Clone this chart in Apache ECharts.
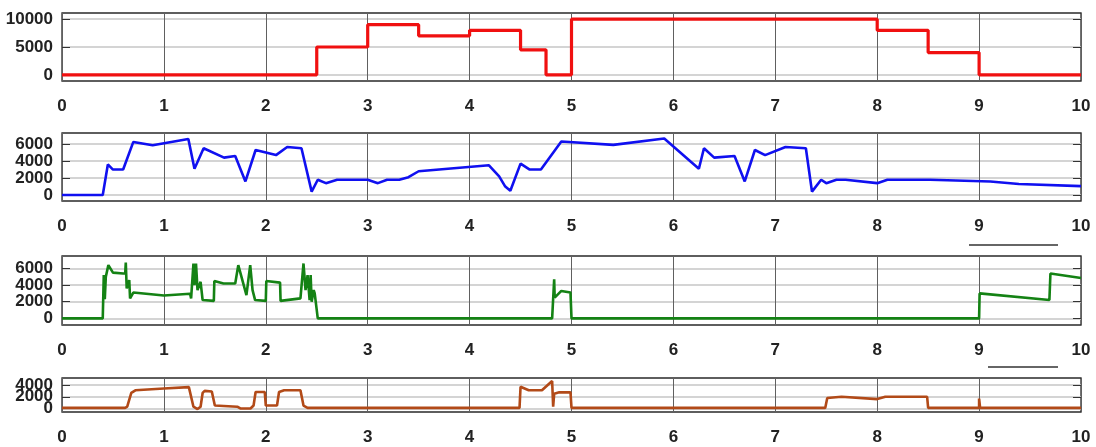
<!DOCTYPE html>
<html><head><meta charset="utf-8">
<script src="https://cdn.jsdelivr.net/npm/echarts@6/dist/echarts.min.js"></script>
<style>html,body{margin:0;padding:0;background:#fff}#c{width:1096px;height:447px}</style>
</head><body><div id="c"></div><script>
// ---- data ----
const xTickLabels = [0,1,2,3,4,5,6,7,8,9,10];

// panel 1 (red, stepped: value holds from t until next t)
const redSteps = [[0,0],[2.5,5000],[3,9000],[3.5,7000],[4,8000],[4.5,4500],[4.75,0],[5,10000],[8,8000],[8.5,4000],[9,0],[10,0]];

// panel 2 (blue)
const blueData = [[0,0],[0.40,0],[0.45,3600],[0.50,3000],[0.60,3000],[0.70,6250],[0.89,5850],[1.24,6600],[1.30,3100],[1.39,5500],[1.59,4400],[1.70,4600],[1.80,1600],[1.90,5300],[2.10,4700],[2.21,5650],[2.35,5500],[2.45,400],[2.51,1800],[2.59,1400],[2.70,1800],[3.00,1800],[3.10,1400],[3.19,1800],[3.31,1800],[3.40,2100],[3.50,2800],[4.19,3500],[4.29,2200],[4.35,1000],[4.40,500],[4.50,3700],[4.59,3000],[4.70,3000],[4.90,6300],[5.41,5900],[5.91,6650],[6.25,3100],[6.30,5500],[6.40,4400],[6.60,4600],[6.70,1600],[6.80,5300],[6.90,4700],[7.10,5650],[7.30,5500],[7.36,400],[7.45,1800],[7.50,1400],[7.60,1800],[7.69,1800],[8.00,1400],[8.10,1800],[8.52,1800],[9.11,1600],[9.39,1300],[10,1050]];

// panel 3 (green)
const greenData = [[0,0],[0.40,0],[0.41,5200],[0.42,2300],[0.43,5000],[0.455,6400],[0.50,5500],[0.60,5400],[0.62,5400],[0.626,6700],[0.635,3600],[0.66,4600],[0.668,2400],[0.70,3100],[1.0,2750],[1.257,2950],[1.267,2400],[1.29,6600],[1.30,4000],[1.315,6600],[1.33,3400],[1.36,4400],[1.38,2200],[1.49,2100],[1.495,4500],[1.585,4200],[1.70,4200],[1.73,6400],[1.81,2800],[1.847,6400],[1.87,3400],[1.895,2200],[2.0,2100],[2.005,4500],[2.14,4300],[2.145,2100],[2.34,2400],[2.37,6600],[2.39,3400],[2.41,5200],[2.43,2200],[2.44,5200],[2.45,2000],[2.47,3400],[2.48,3000],[2.51,0],[4.81,0],[4.83,4700],[4.835,2500],[4.90,3300],[4.99,3100],[5.0,0],[9.0,0],[9.005,3000],[9.69,2200],[9.70,5400],[10,4850]];

// panel 4 (brown)
const brownData = [[0,100],[0.62,100],[0.64,300],[0.68,2650],[0.72,3100],[1.0,3400],[1.245,3650],[1.29,300],[1.33,-100],[1.36,300],[1.38,2650],[1.40,3000],[1.47,2900],[1.50,500],[1.72,300],[1.75,0],[1.85,0],[1.88,500],[1.90,2800],[1.99,2800],[2.0,500],[2.11,500],[2.13,2800],[2.18,3100],[2.34,3100],[2.37,500],[2.41,100],[4.49,100],[4.50,3700],[4.58,3100],[4.71,3100],[4.81,4700],[4.82,300],[4.83,2500],[4.88,2750],[4.99,2750],[5.0,100],[7.49,100],[7.51,1800],[7.65,2000],[8.0,1600],[8.08,2000],[8.49,2000],[8.5,100],[9.0,100],[9.0,1700],[9.01,100],[10,100]];

const yTicks1 = [0,5000,10000];
const yTicks2 = [0,2000,4000,6000];
const yTicks3 = [0,2000,4000,6000];
const yTicks4 = [0,2000,4000];
const yRange1 = [-1100,11100];
const yRange2 = [-700,7300];
const yRange3 = [-800,7500];
const yRange4 = [-600,5200];

// ---- layout / style ----
const FONT = "'Liberation Sans Narrow','Arial Narrow','Liberation Sans',sans-serif";
const lbl = {fontFamily: FONT, fontWeight: 'bold', fontSize: 17, color: '#222',
  formatter: v => String(v), showMinLabel: true, showMaxLabel: true, hideOverlap: false};
const gridBoxes = [{top:13,height:68},{top:133,height:68},{top:256,height:69},{top:378,height:34}];
const ranges = [yRange1,yRange2,yRange3,yRange4];
const tickSets = [yTicks1,yTicks2,yTicks3,yTicks4];
const seriesDefs = [
  {data: redSteps, color: '#f01010', width: 3.2, step: 'end'},
  {data: blueData, color: '#1010f0', width: 2.6},
  {data: greenData, color: '#148214', width: 2.6},
  {data: brownData, color: '#b24a18', width: 2.6}
];

const grid = [], xAxis = [], yAxis = [], series = [];
gridBoxes.forEach((g, i) => {
  const [ymin, ymax] = ranges[i];
  grid.push({left: 62, right: 15, top: g.top, height: g.height, show: true,
    borderColor: '#2a2a2a', borderWidth: 1.3, backgroundColor: '#fff'});
  xAxis.push({type: 'value', gridIndex: i, min: xTickLabels[0], max: xTickLabels[xTickLabels.length-1], interval: 1,
    axisLine: {show: false}, axisTick: {show: false},
    splitLine: {show: true, lineStyle: {color: '#606060', width: 1}},
    axisLabel: Object.assign({}, lbl, {margin: 17})});
  // main left axis: gridlines + inner ticks
  const mainIdx = yAxis.length;
  yAxis.push({type: 'value', gridIndex: i, min: ymin, max: ymax, position: 'left',
    axisLine: {show: false},
    axisTick: {show: true, inside: true, length: 8, customValues: tickSets[i], lineStyle: {color: '#333', width: 1}},
    axisLabel: {show: false},
    splitLine: {show: true, lineStyle: {color: '#c6c6c6', width: 1.5}}});
  // right axis: inner ticks only
  yAxis.push({type: 'value', gridIndex: i, min: ymin, max: ymax, position: 'right',
    axisLine: {show: false},
    axisTick: {show: true, inside: true, length: 8, customValues: tickSets[i], lineStyle: {color: '#333', width: 1}},
    axisLabel: {show: false}, splitLine: {show: false}});
  // one label axis per tick value so the tightly packed labels may overlap like the original
  tickSets[i].forEach(v => {
    yAxis.push({type: 'value', gridIndex: i, min: ymin, max: ymax, position: 'left', offset: 0,
      axisLine: {show: false}, axisTick: {show: false}, splitLine: {show: false},
      axisLabel: Object.assign({}, lbl, {margin: 9, customValues: [v]})});
  });
  const s = seriesDefs[i];
  series.push({type: 'line', xAxisIndex: i, yAxisIndex: mainIdx, data: s.data, step: s.step || false,
    showSymbol: false, symbol: 'none', animation: false, clip: true,
    lineStyle: {color: s.color, width: s.width}});
});

const chart = echarts.init(document.getElementById('c'), null, {renderer: 'canvas'});
chart.setOption({
  backgroundColor: '#fff', animation: false,
  grid, xAxis, yAxis, series,
  graphic: [
    {type: 'line', shape: {x1: 969, y1: 245, x2: 1058, y2: 245}, style: {stroke: '#333', lineWidth: 1.4}},
    {type: 'line', shape: {x1: 988, y1: 367, x2: 1058, y2: 367}, style: {stroke: '#333', lineWidth: 1.4}}
  ]
});
</script></body></html>
